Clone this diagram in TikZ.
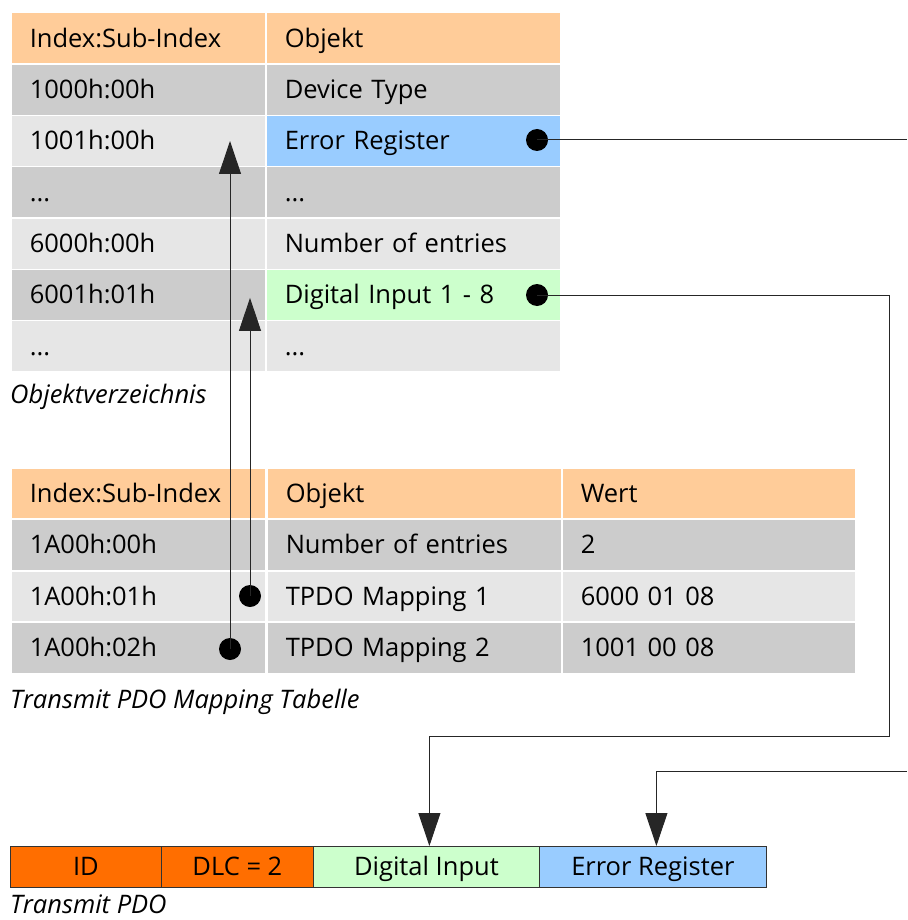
\documentclass[tikz,border=0pt]{standalone}
\usepackage{fontspec}
\setmainfont{Open Sans}
\usetikzlibrary{arrows.meta}
\definecolor{hdr}{HTML}{FFCC99}
\definecolor{dk}{HTML}{CCCCCC}
\definecolor{lt}{HTML}{E6E6E6}
\definecolor{blu}{HTML}{99CCFF}
\definecolor{grn}{HTML}{CCFFCC}
\definecolor{org}{HTML}{FF6E00}
\tikzset{
  txt/.style={font=\fontsize{25.5}{30}\selectfont},
  cell/.style={txt, draw=white, line width=1.5pt, anchor=north west, minimum height=51.3pt,
    inner xsep=19pt, inner ysep=0pt, align=left, text height=18pt, text depth=0pt},
  colA/.style={cell, text width=217pt},
  colB/.style={cell, text width=257pt},
  colC/.style={cell, text width=256pt},
  captxt/.style={font=\fontsize{25.5}{30}\selectfont\itshape, anchor=base west, inner sep=0pt},
  dot/.style={circle, fill=black, minimum size=22pt, inner sep=0pt},
  conn/.style={line width=1pt, draw=black!85},
  arr/.style={conn, -{Triangle[length=33pt,width=22pt]}},
  bar/.style={txt, draw=black!80, line width=0.8pt, minimum height=41pt, anchor=north west,
    inner sep=0pt, text height=18pt, text depth=0pt}
}
\begin{document}
\begin{tikzpicture}[x=1pt,y=-1pt]
\useasboundingbox (0,0) rectangle (907,920);
% Objektverzeichnis
\node[colA, fill=hdr] (t0a) at (10,12) {Index:Sub-Index};
\node[colB, fill=hdr] (t0b) at (265,12) {Objekt};
\node[colA, fill=dk] (t1a) at (10,63.3) {1000h:00h};
\node[colB, fill=dk] (t1b) at (265,63.3) {Device Type};
\node[colA, fill=lt] (t2a) at (10,114.6) {1001h:00h};
\node[colB, fill=blu] (t2b) at (265,114.6) {Error Register};
\node[colA, fill=dk] (t3a) at (10,165.9) {...};
\node[colB, fill=dk] (t3b) at (265,165.9) {...};
\node[colA, fill=lt] (t4a) at (10,217.2) {6000h:00h};
\node[colB, fill=lt] (t4b) at (265,217.2) {Number of entries};
\node[colA, fill=dk] (t5a) at (10,268.5) {6001h:01h};
\node[colB, fill=grn] (t5b) at (265,268.5) {Digital Input 1 - 8};
\node[colA, fill=lt] (t6a) at (10,319.8) {...};
\node[colB, fill=lt] (t6b) at (265,319.8) {...};
\node[captxt] (c1) at (10,403) {Objektverzeichnis};
% Mapping table
\node[colA, fill=hdr] (m0a) at (10,467) {Index:Sub-Index};
\node[colB, fill=hdr] (m0b) at (266,467) {Objekt};
\node[colC, fill=hdr] (m0c) at (561,467) {Wert};
\node[colA, fill=dk] (m1a) at (10,518.5) {1A00h:00h};
\node[colB, fill=dk] (m1b) at (266,518.5) {Number of entries};
\node[colC, fill=dk] (m1c) at (561,518.5) {2};
\node[colA, fill=lt] (m2a) at (10,570) {1A00h:01h};
\node[colB, fill=lt] (m2b) at (266,570) {TPDO Mapping 1};
\node[colC, fill=lt] (m2c) at (561,570) {6000 01 08};
\node[colA, fill=dk] (m3a) at (10,621.5) {1A00h:02h};
\node[colB, fill=dk] (m3b) at (266,621.5) {TPDO Mapping 2};
\node[colC, fill=dk] (m3c) at (561,621.5) {1001 00 08};
\node[captxt] (c2) at (10,708) {Transmit PDO Mapping Tabelle};
% Transmit PDO
\node[bar, fill=org, minimum width=151pt] (bid) at (10,846) {ID};
\node[bar, fill=org, minimum width=152pt] (bdlc) at (161,846) {DLC = 2};
\node[bar, fill=grn, minimum width=226pt] (bdi) at (313,846) {Digital Input};
\node[bar, fill=blu, minimum width=227pt] (ber) at (539,846) {Error Register};
\node[captxt] (c3) at (10,913) {Transmit PDO};
% dots
\node[dot] (der) at (537,140) {};
\node[dot] (ddi) at (537,295) {};
\node[dot] (dm1) at (250,596) {};
\node[dot] (dm2) at (230,649) {};
\coordinate (e1) at (907,140);
\coordinate (e2) at (907,771);
\coordinate (k1) at (889,736);
% connectors
\draw[arr] (dm2.center) -- (dm2 |- t2a.center);
\draw[arr] (dm1.center) -- ([yshift=-3pt]dm1 |- t5a.center);
\draw[conn] (der.center) -- (e1);
\draw[arr] (e2) -| ([xshift=3.5pt]ber.north);
\draw[arr] (ddi.center) -| (k1) -| ([xshift=3pt]bdi.north);
\end{tikzpicture}
\end{document}
